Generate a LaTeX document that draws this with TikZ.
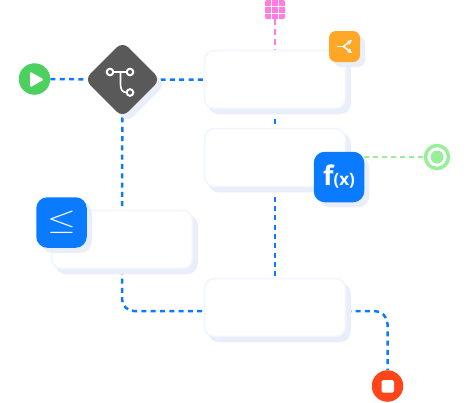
\documentclass[tikz,border=0pt]{standalone}
\usepackage{xcolor}
\usepackage{graphicx}
\usepackage{fontspec}
\setmainfont{Open Sans}
\usepackage{tikz}
\usetikzlibrary{arrows.meta,positioning,shadows,backgrounds}
\definecolor{flowblue}{RGB}{10,123,255}
\definecolor{flowdark}{RGB}{89,89,89}
\definecolor{floworange}{RGB}{255,167,38}
\definecolor{flowgreen}{RGB}{76,208,95}
\definecolor{flowred}{RGB}{255,69,25}
\definecolor{flowmint}{RGB}{152,238,153}
\definecolor{flowpink}{RGB}{255,125,224}
\definecolor{boxedge}{RGB}{240,246,254}
\definecolor{boxshade}{RGB}{233,238,248}
\tikzset{
  taskbox/.style={rectangle,rounded corners=10pt,draw=boxedge,line width=1.6pt,fill=white,
                  minimum width=141pt,minimum height=58pt,inner sep=0pt,
                  general shadow={shadow xshift=4.5pt,shadow yshift=-5pt,fill=boxshade,draw=boxshade}},
  badge/.style={rectangle,rounded corners=11pt,fill=flowblue,text=white,minimum size=50.5pt,inner sep=0pt,
                general shadow={shadow xshift=5pt,shadow yshift=-5pt,fill=boxshade}},
  dotnode/.style={circle,minimum size=31.5pt,inner sep=0pt},
  wire/.style={draw=flowblue,line width=2.5pt,dash pattern=on 5pt off 4.3pt},
  icon/.style={draw=white,line width=1.6pt,line cap=round}
}
\begin{document}
\begin{tikzpicture}[x=1pt,y=-1pt]
  \useasboundingbox (0,0) rectangle (470,402);

  \node[dotnode,fill=flowgreen] (play) at (34.5,79) {};
  \node[rectangle,rounded corners=8pt,fill=flowdark,minimum size=53.5pt,inner sep=0pt,rotate=45,
        general shadow={shadow xshift=5pt,shadow yshift=-5pt,fill=boxshade}] (fork) at (122.5,79.5) {};
  \node[taskbox] (merge) at (275,79.5) {};
  \node[taskbox,below=18.5pt of merge] (func) {};
  \node[taskbox] (compare) at (122,239.5) {};
  \node[taskbox] (join) at (275,307.5) {};

  \node[rectangle,rounded corners=7pt,fill=floworange,minimum size=31pt,inner sep=0pt,
        general shadow={shadow xshift=5pt,shadow yshift=-5pt,fill=boxshade}] (shuffle) at (344.5,46.5) {};
  \node[badge,font=\bfseries] (fxbadge) at (339,177) {\fontsize{27}{27}\selectfont f\fontsize{17}{17}\selectfont(x)};
  \node[badge] (leqbadge) at (61.5,222.5) {\scalebox{3.7}[2.9]{$\leq$}};

  \node[dotnode,fill=flowred] (stop) at (387.5,386) {};
  \node[circle,fill=white,draw=flowmint,line width=3.5pt,minimum size=23pt,inner sep=0pt] (target) at (437,157) {};
  \node[circle,fill=flowmint,minimum size=13pt,inner sep=0pt] (targetcore) at (target) {};
  \node[rectangle,rounded corners=2pt,fill=flowpink,minimum width=20pt,minimum height=19pt,inner sep=0pt] (grid) at (275,9.5) {};

  \begin{scope}[on background layer]
    \draw[wire] (play) -- (fork);
    \draw[wire] (fork) -- (merge);
    \draw[wire] (fork) -- (compare.north);
    \draw[wire] (merge.south) -- (func.north);
    \draw[wire] (func.south) -- (join.north);
    \draw[wire,rounded corners=12pt] (compare.south) |- ([yshift=-3.5pt]join.west);
    \draw[wire,rounded corners=13pt] ([yshift=-3.5pt]join.east) -| (stop.north);
    \draw[draw=flowpink,line width=2.5pt,dash pattern=on 6pt off 4pt] (grid.south) -- (merge.north);
    \draw[draw=flowmint,line width=2.5pt,dash pattern=on 5pt off 4pt] (fxbadge.east |- target) -- (target);
  \end{scope}

  % pink grid lines
  \foreach \gx in {271.7,278.3}
    \draw[white,line width=1pt] (\gx,0) -- (\gx,19);
  \foreach \gy in {6,13}
    \draw[white,line width=1pt] (265,\gy) -- (285,\gy);

  % icons
  \fill[white,rounded corners=1.5pt] (30,71.5) -- (44,79.5) -- (30,87.5) -- cycle;
  \fill[white,rounded corners=1.5pt] (381.5,380) rectangle (394,392.5);
  \draw[icon] (113.5,72) -- (126.5,72);
  \draw[icon] (120.5,72) -- (120.5,84) .. controls (120.5,89) and (122,92.5) .. (126.5,92.5);
  \draw[draw=white,line width=2pt,fill=flowdark] (110,72) circle (3.3);
  \draw[draw=white,line width=2pt,fill=flowdark] (130,72) circle (3.3);
  \draw[draw=white,line width=2pt,fill=flowdark] (130,92.5) circle (3.3);
  \draw[icon] (337.5,46.5) -- (343.5,46.5);
  \draw[icon,-{Stealth[length=5pt,width=5pt]}] (343.5,46.5) -- (352,40);
  \draw[icon,-{Stealth[length=5pt,width=5pt]}] (343.5,46.5) -- (352,53);
\end{tikzpicture}
\end{document}
